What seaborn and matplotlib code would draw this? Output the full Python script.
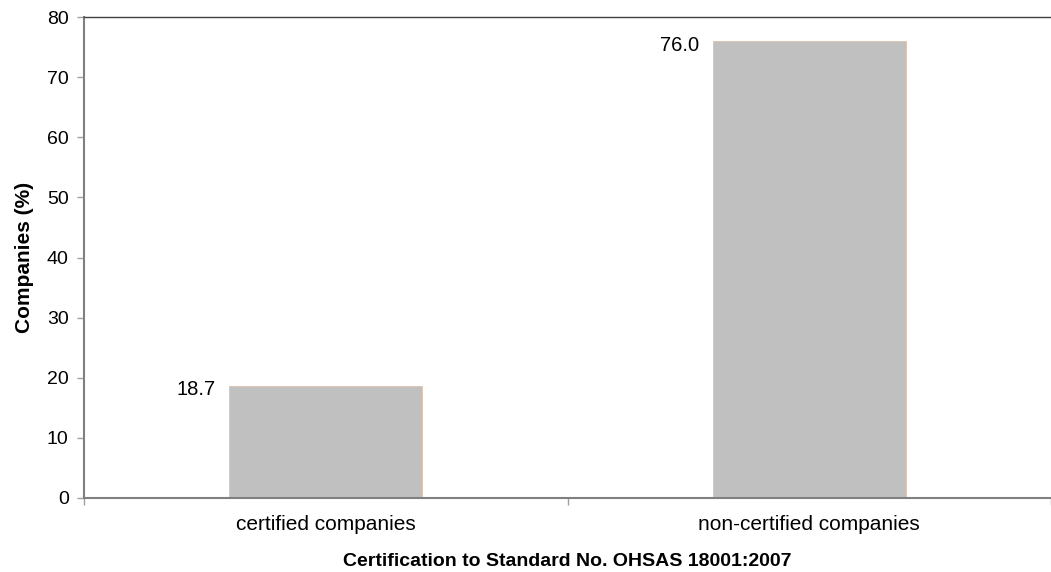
import matplotlib
matplotlib.use("Agg")
import matplotlib.pyplot as plt
import seaborn as sns

categories = ["certified companies", "non-certified companies"]
values = [18.7, 76.0]
value_labels = ["18.7", "76.0"]
y_ticks = [0, 10, 20, 30, 40, 50, 60, 70, 80]

sns.set_style("white")
plt.rcParams["font.family"] = ["Liberation Sans", "DejaVu Sans"]
plt.rcParams["text.color"] = "black"
plt.rcParams["axes.labelcolor"] = "black"
plt.rcParams["xtick.color"] = "black"
plt.rcParams["ytick.color"] = "black"

fig = plt.figure(figsize=(10.51, 5.72), dpi=100)
ax = fig.add_axes([84 / 1051, 1 - 498 / 572, 1 - 84 / 1051, (498 - 17) / 572])

sns.barplot(x=categories, y=values, width=0.4, color="#c0c0c0",
            edgecolor="#e2c0a8", linewidth=0.6, saturation=1, ax=ax)

# value labels to the left of each bar top
for i, (v, lab) in enumerate(zip(values, value_labels)):
    ax.text(i - 0.227, v - 0.7, lab, ha="right", va="center", fontsize=14.5, color="black")

ax.set_xlim(-0.5, 1.5)
ax.set_ylim(0, 80)
ax.set_yticks(y_ticks)
ax.set_yticklabels([str(t) for t in y_ticks], fontsize=14)
ax.tick_params(axis="y", left=True, direction="out", length=5, color="#a0a0a0",
               labelcolor="black", width=1, pad=6)
ax.tick_params(axis="x", which="major", bottom=True, length=0, labelsize=15,
               labelcolor="black", pad=12)
ax.set_xticks([-0.5, 0.5, 1.5], minor=True)
ax.tick_params(axis="x", which="minor", bottom=True, direction="out", length=5,
               color="#a0a0a0", width=1)

for side in ["left", "bottom"]:
    ax.spines[side].set_color("#808080")
    ax.spines[side].set_linewidth(1.5)
ax.spines["top"].set_color("#404040")
ax.spines["top"].set_linewidth(1)
ax.spines["right"].set_visible(False)

ax.set_ylabel("Companies (%)", fontsize=15, fontweight="bold", labelpad=9)
ax.set_xlabel("Certification to Standard No. OHSAS 18001:2007", fontsize=14,
              fontweight="bold", labelpad=14)

fig.savefig("out.png", dpi=100)
